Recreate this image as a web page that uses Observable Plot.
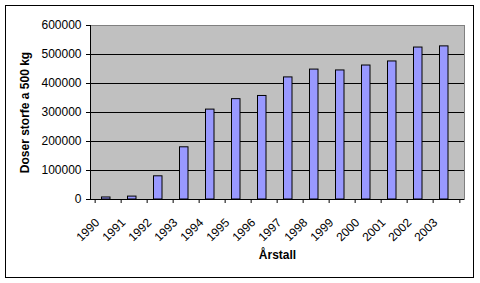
<!DOCTYPE html>
<html><head><meta charset="utf-8">
<script src="https://cdn.jsdelivr.net/npm/d3@7"></script>
<script src="https://cdn.jsdelivr.net/npm/@observablehq/plot@0.6"></script>
<style>
body{margin:0;background:#fff;}
#wrap{position:relative;width:480px;height:283px;}
#border{position:absolute;left:5px;top:5px;width:469px;height:273px;box-sizing:border-box;border:1px solid #000;pointer-events:none;}
svg [aria-label="x-axis label"] text, svg [aria-label="y-axis label"] text, svg [aria-label="x-axis label"], svg [aria-label="y-axis label"]{font-weight:bold;}
</style></head><body>
<div id="wrap"><div id="border"></div></div>
<script>
const years = ["1990","1991","1992","1993","1994","1995","1996","1997","1998","1999","2000","2001","2002","2003"];
const values = [7000, 10000, 80000, 180000, 310000, 346000, 357000, 421000, 448000, 445000, 462000, 476000, 524000, 528000];
const yTicks = [0, 100000, 200000, 300000, 400000, 500000, 600000];
const yTitle = "Doser storfe a 500 kg";
const xTitle = "Årstall";

const data = years.map((year, i) => ({year, value: values[i]}));
const W = 480, H = 283, ML = 90, MR = 16, MT = 25, MB = 84;
const bw = (W - ML - MR) / years.length;

const chart = Plot.plot({
  width: W, height: H,
  marginLeft: ML, marginRight: MR, marginTop: MT, marginBottom: MB,
  style: {fontFamily: "'Liberation Sans', Arial, sans-serif", fontSize: "12px", color: "#000", background: "transparent"},
  x: {type: "band", domain: years, padding: 0},
  y: {domain: [0, 600000]},
  marks: [
    Plot.frame({fill: "#c0c0c0", stroke: "none"}),
    Plot.ruleY(yTicks.filter(d => d > 0 && d < 600000), {stroke: "#000"}),
    Plot.frame({stroke: "#808080"}),
    Plot.barY(data, {x: "year", y: "value", fill: "#9999ff", stroke: "#000", insetLeft: 6.5, insetRight: 11}),
    Plot.ruleY([0], {stroke: "#000"}),
    Plot.frame({anchor: "left", stroke: "#000"}),
    Plot.axisY({ticks: yTicks, tickFormat: d3.format("d"), tickSize: 4, tickPadding: 5, label: yTitle, labelAnchor: "center", labelOffset: 70, labelArrow: "none", fontSize: 12}),
    Plot.axisX({tickSize: 4, tickFormat: () => "", dx: -bw / 2, label: null}),
    Plot.axisX({ticks: [years[years.length - 1]], tickSize: 4, tickFormat: () => "", dx: bw / 2, label: null}),
    Plot.axisX({tickSize: 0, tickRotate: -45, tickPadding: 0, textAnchor: "end", lineAnchor: "middle", dx: -11, dy: 21, fontSize: 12, label: null}),
    Plot.axisX({tickSize: 0, tickFormat: () => "", label: xTitle, labelAnchor: "center", labelOffset: 59, labelArrow: "none", fontSize: 12})
  ]
});
document.getElementById("wrap").appendChild(chart);
</script>
</body></html>
